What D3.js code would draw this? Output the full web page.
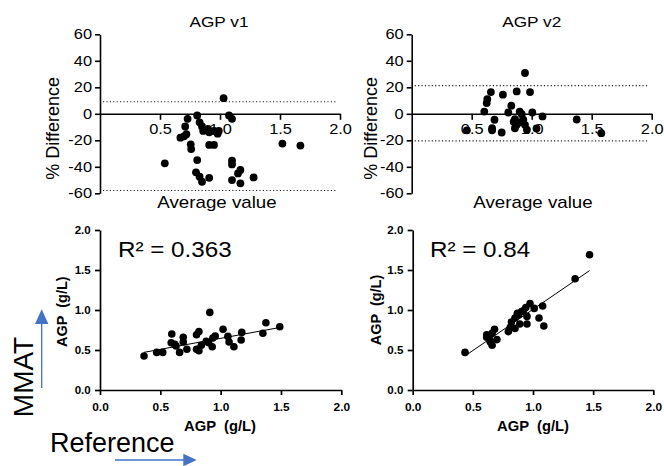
<!DOCTYPE html>
<html><head><meta charset="utf-8">
<script src="https://cdn.jsdelivr.net/npm/d3@7"></script>
<style>
body{margin:0;background:#fff}
svg{display:block}
text{font-family:"Liberation Sans",Arial,Helvetica,sans-serif;fill:#000;white-space:pre}
</style>
</head><body>
<svg id="c" width="664" height="466"></svg>
<script>
// ---------- data ----------
const titles = ["AGP v1", "AGP v2"];
const r2Labels = ["R\u00B2 = 0.363", "R\u00B2 = 0.84"];
const axisLabel = "AGP \u00A0(g/L)";

// Bland-Altman, v1: average value vs % difference
const v1Avg  = [1.03, 0.81, 0.83, 0.73, 0.71, 0.72, 0.67, 0.70, 0.85, 0.86, 0.90, 0.91, 0.95, 0.99, 0.98, 0.756, 0.76, 0.91, 0.95, 1.075, 1.10, 0.54, 0.81, 1.10, 1.10, 0.80, 0.83, 0.85, 0.91, 1.10, 1.17, 1.15, 1.17, 1.28, 1.52, 1.67];
const v1Diff = [11.8, -1.3, -6.4, -3.8, -9.6, -15.4, -18, -17, -9.6, -12.9, -11.4, -14, -13, -12.9, -15, -23, -26.6, -23.5, -23.5, -1.3, -3.8, -37.4, -34.9, -35.4, -38.2, -44.2, -47.5, -51.3, -48.3, -50, -42.4, -45, -52.5, -48, -22.5, -24];
const v1Limits = [9.1, -57.9];

// Bland-Altman, v2
const v2Avg  = [0.944, 0.66, 0.76, 0.875, 0.986, 0.63, 0.625, 0.605, 0.83, 0.805, 0.90, 0.917, 1.005, 1.09, 0.69, 0.67, 0.67, 0.75, 0.86, 0.875, 0.86, 0.93, 0.944, 0.96, 0.46, 1.04, 1.375, 1.58, 0.85, 0.89];
const v2Diff = [30.8, 16.4, 14.4, 16.9, 16.4, 11.1, 8.1, 1.7, 6.1, 1, 1.7, -0.3, 1, -2, -4.5, -10.9, -12.5, -14.1, -4, -8.3, -10.9, -4.5, -8.3, -12, -12.5, -11, -4.3, -14.6, -6, -6.5];
const v2Limits = [21.2, -20.5];

// Correlation, v1: reference vs MMAT
const c1Ref  = [0.365, 0.47, 0.52, 0.595, 0.59, 0.62, 0.66, 0.69, 0.69, 0.72, 0.80, 0.82, 0.80, 0.82, 0.84, 0.91, 0.90, 0.93, 0.935, 0.955, 1.02, 1.06, 1.07, 1.11, 1.175, 1.17, 1.35, 1.375, 1.49, 0.88, 0.63];
const c1Mmat = [0.425, 0.47, 0.47, 0.70, 0.59, 0.57, 0.47, 0.66, 0.60, 0.51, 0.69, 0.73, 0.51, 0.49, 0.56, 0.97, 0.59, 0.54, 0.65, 0.675, 0.76, 0.67, 0.60, 0.54, 0.72, 0.625, 0.71, 0.84, 0.79, 0.61, 0.55];
const c1Fit = [0.37, 0.276];      // intercept, slope
const c1FitRange = [0.365, 1.49];

// Correlation, v2
const c2Ref  = [0.435, 1.47, 1.35, 0.975, 1.08, 1.01, 1.05, 1.09, 0.94, 0.905, 0.88, 0.85, 0.95, 0.95, 0.82, 0.81, 0.795, 0.85, 0.89, 0.68, 0.66, 0.615, 0.64, 0.70, 0.66, 0.645, 0.615, 0.87, 0.92];
const c2Mmat = [0.47, 1.69, 1.39, 1.08, 1.05, 1.02, 0.90, 0.80, 1.03, 0.98, 0.94, 0.90, 0.92, 0.825, 0.85, 0.78, 0.73, 0.77, 0.825, 0.76, 0.71, 0.66, 0.625, 0.63, 0.56, 0.60, 0.69, 0.96, 0.99];
const c2Fit = [-0.022, 1.03];
const c2FitRange = [0.435, 1.47];

// ticks
const baYTicks = [-60, -40, -20, 0, 20, 40, 60];
const baXTicks = [0.5, 1.0, 1.5, 2.0];
const baXTickLabels = ["0.5", "1.0", "1.5", "2.0"];
const cTicks = [0, 0.5, 1.0, 1.5, 2.0];
const cTickLabels = ["0.0", "0.5", "1.0", "1.5", "2.0"];

// ---------- drawing ----------
const svg = d3.select("#c");
const SX = 1.17;
const BLUE = "#4472C4";

function txt(x, y, s, size, o = {}) {
  return svg.append("text")
    .attr("transform", `translate(${x},${y}) rotate(${o.rot || 0}) scale(${o.sx || 1},1)`)
    .attr("text-anchor", o.anchor || "middle")
    .attr("font-size", size)
    .attr("font-weight", o.weight || "normal")
    .text(s);
}

function styleAxis(g, w) {
  g.attr("font-family", null);
  g.selectAll(".domain, .tick line").attr("stroke", "#000").attr("stroke-width", w);
}

function blandAltman(xr, avg, diff, limits) {
  const x = d3.scaleLinear([0, 2], xr);
  const y = d3.scaleLinear([-60, 60], [193.3, 34.3]);
  const g = svg.append("g");
  g.selectAll("line.lim").data(limits).join("line")
    .attr("x1", x(0) + 3).attr("x2", x(1.98))
    .attr("y1", d => y(d)).attr("y2", d => y(d))
    .attr("stroke", "#222").attr("stroke-width", 1.2)
    .attr("stroke-dasharray", "1.2,2.2");
  const ya = g.append("g").attr("transform", `translate(${x(0)},0)`)
    .call(d3.axisLeft(y).tickValues(baYTicks).tickSize(5).tickPadding(3).tickSizeOuter(0).tickFormat(d => String(d)))
    .attr("font-size", 14);
  styleAxis(ya, 1.6);
  ya.selectAll(".tick text").attr("x", -8 / SX).attr("transform", `scale(${SX},1)`);
  const xa = g.append("g").attr("transform", `translate(0,${y(0)})`)
    .call(d3.axisBottom(x).tickValues(baXTicks).tickSize(6).tickPadding(4.5).tickSizeOuter(0)
      .tickFormat((d, i) => baXTickLabels[i]))
    .attr("font-size", 14);
  styleAxis(xa, 1.6);
  xa.selectAll(".tick text").attr("transform", `scale(${SX},1)`);
  g.selectAll("circle").data(avg.map((a, i) => [a, diff[i]])).join("circle")
    .attr("cx", d => x(d[0])).attr("cy", d => y(d[1])).attr("r", 3.9).attr("fill", "#000");
}

function correlation(xr, ref, mmat, fit, fitRange) {
  const x = d3.scaleLinear([0, 2], xr);
  const y = d3.scaleLinear([0, 2], [390, 230]);
  const g = svg.append("g");
  const ya = g.append("g").attr("transform", `translate(${x(0)},0)`)
    .call(d3.axisLeft(y).tickValues(cTicks).tickSize(5).tickPadding(4.3).tickSizeOuter(0)
      .tickFormat((d, i) => cTickLabels[i]))
    .attr("font-size", 11).attr("font-weight", "bold");
  styleAxis(ya, 1.7);
  ya.selectAll(".tick text").attr("x", -9.3 / 1.05).attr("transform", "scale(1.05,1)");
  const xa = g.append("g").attr("transform", `translate(0,${y(0)})`)
    .call(d3.axisBottom(x).tickValues(cTicks).tickSize(5).tickPadding(8.6).tickSizeOuter(0)
      .tickFormat((d, i) => cTickLabels[i]))
    .attr("font-size", 11).attr("font-weight", "bold");
  styleAxis(xa, 1.7);
  xa.selectAll(".tick text").attr("transform", "scale(1.08,1)");
  const line = d3.line().x(d => x(d)).y(d => y(fit[0] + fit[1] * d));
  g.append("path").attr("d", line(fitRange)).attr("fill", "none")
    .attr("stroke", "#000").attr("stroke-width", 1);
  g.selectAll("circle").data(ref.map((a, i) => [a, mmat[i]])).join("circle")
    .attr("cx", d => x(d[0])).attr("cy", d => y(d[1])).attr("r", 3.8).attr("fill", "#000");
}

// Top panels
blandAltman([100, 340], v1Avg, v1Diff, v1Limits);
blandAltman([411.7, 651.7], v2Avg, v2Diff, v2Limits);
txt(219, 26.7, titles[0], 15, {sx: 1.15});
txt(531.7, 26.7, titles[1], 15, {sx: 1.15});
txt(59.3, 128.3, "% Difference", 18, {rot: -90});
txt(376.7, 128.3, "% Difference", 18, {rot: -90});
txt(217, 208.3, "Average value", 16, {sx: SX});
txt(533, 208.3, "Average value", 16, {sx: SX});

// Bottom panels
correlation([100, 341.3], c1Ref, c1Mmat, c1Fit, c1FitRange);
correlation([412.7, 653.3], c2Ref, c2Mmat, c2Fit, c2FitRange);
txt(118, 256.7, r2Labels[0], 22, {anchor: "start", sx: 1.1});
txt(430, 256.7, r2Labels[1], 22, {anchor: "start", sx: 1.1});
txt(66.7, 311.7, axisLabel, 14.5, {rot: -90, weight: "bold"});
txt(380.5, 310, axisLabel, 14.5, {rot: -90, weight: "bold"});
txt(220, 431, axisLabel, 14.5, {weight: "bold", sx: 1.02});
txt(533, 431, axisLabel, 14.5, {weight: "bold", sx: 1.02});

// Side annotations
txt(33.3, 377, "MMAT", 28, {rot: -90});
txt(50, 451.7, "Reference", 27, {anchor: "start"});

// arrows
svg.append("line").attr("x1", 41.7).attr("x2", 41.7).attr("y1", 388).attr("y2", 322)
  .attr("stroke", BLUE).attr("stroke-width", 1.3);
svg.append("path").attr("d", "M41.7,309.3 L48.4,324 L35,324 Z").attr("fill", BLUE);
svg.append("line").attr("x1", 115).attr("x2", 185).attr("y1", 460).attr("y2", 460)
  .attr("stroke", BLUE).attr("stroke-width", 1.3);
svg.append("path").attr("d", "M196.7,460 L183.3,453.7 L183.3,466.3 Z").attr("fill", BLUE);
</script>
</body></html>
